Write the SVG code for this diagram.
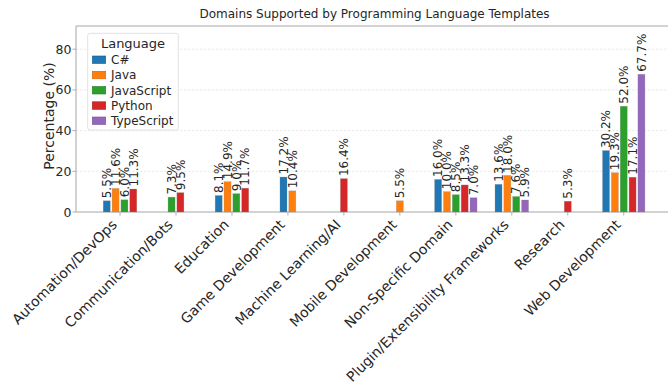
<svg xmlns="http://www.w3.org/2000/svg" width="668" height="385" viewBox="0 0 668 385">
<style>
text{font-family:"DejaVu Sans","Liberation Sans",sans-serif;fill:#262626}
.title{font-size:12px}
.ytick{font-size:12.5px;text-anchor:end}
.xtick{font-size:14px;text-anchor:end}
.ylab{font-size:14px;text-anchor:middle}
.val{font-size:12px}
.leg{font-size:12px}
.legt{font-size:13px;text-anchor:middle}
.grid{stroke:#e6e6e6;stroke-width:0.8;stroke-dasharray:2.5 1.5}
.spine{stroke:#a6a6a6;stroke-width:1;fill:none}
.tick{stroke:#a6a6a6;stroke-width:0.9}
.bar{stroke:#8c8c8c;stroke-opacity:0.55;stroke-width:0.5}
.cs{fill:#1f77b4}.ja{fill:#ff7f0e}.js{fill:#2ca02c}.py{fill:#d62728}.ts{fill:#9467bd}
</style>
<rect width="668" height="385" fill="#ffffff"/>
<text class="title" x="374.5" y="18" text-anchor="middle">Domains Supported by Programming Language Templates</text>
<g id="grid">
<line class="grid" x1="76" y1="49.2" x2="668" y2="49.2"/>
<line class="grid" x1="76" y1="89.9" x2="668" y2="89.9"/>
<line class="grid" x1="76" y1="130.6" x2="668" y2="130.6"/>
<line class="grid" x1="76" y1="171.3" x2="668" y2="171.3"/>
</g>
<g id="axes">
<path class="spine" d="M668 26H76V212H668"/>
<line class="tick" x1="72.5" y1="212" x2="76" y2="212"/>
<line class="tick" x1="72.5" y1="171.3" x2="76" y2="171.3"/>
<line class="tick" x1="72.5" y1="130.6" x2="76" y2="130.6"/>
<line class="tick" x1="72.5" y1="89.9" x2="76" y2="89.9"/>
<line class="tick" x1="72.5" y1="49.2" x2="76" y2="49.2"/>
<text class="ytick" x="71.5" y="216.5">0</text>
<text class="ytick" x="71.5" y="175.8">20</text>
<text class="ytick" x="71.5" y="135.1">40</text>
<text class="ytick" x="71.5" y="94.4">60</text>
<text class="ytick" x="71.5" y="53.7">80</text>
<text class="ylab" transform="translate(54 116) rotate(-90)">Percentage (%)</text>
<g id="xticks">
<line class="tick" x1="120" y1="212" x2="120" y2="215.5"/>
<line class="tick" x1="175.97" y1="212" x2="175.97" y2="215.5"/>
<line class="tick" x1="231.94" y1="212" x2="231.94" y2="215.5"/>
<line class="tick" x1="287.91" y1="212" x2="287.91" y2="215.5"/>
<line class="tick" x1="343.88" y1="212" x2="343.88" y2="215.5"/>
<line class="tick" x1="399.85" y1="212" x2="399.85" y2="215.5"/>
<line class="tick" x1="455.82" y1="212" x2="455.82" y2="215.5"/>
<line class="tick" x1="511.79" y1="212" x2="511.79" y2="215.5"/>
<line class="tick" x1="567.76" y1="212" x2="567.76" y2="215.5"/>
<line class="tick" x1="623.73" y1="212" x2="623.73" y2="215.5"/>
<text class="xtick" transform="translate(117.8 225.5) rotate(-45)">Automation/DevOps</text>
<text class="xtick" transform="translate(173.77 225.5) rotate(-45)">Communication/Bots</text>
<text class="xtick" transform="translate(229.74 225.5) rotate(-45)">Education</text>
<text class="xtick" transform="translate(285.71 225.5) rotate(-45)">Game Development</text>
<text class="xtick" transform="translate(341.68 225.5) rotate(-45)">Machine Learning/AI</text>
<text class="xtick" transform="translate(397.65 225.5) rotate(-45)">Mobile Development</text>
<text class="xtick" transform="translate(453.62 225.5) rotate(-45)">Non-Specific Domain</text>
<text class="xtick" transform="translate(509.59 225.5) rotate(-45)">Plugin/Extensibility Frameworks</text>
<text class="xtick" transform="translate(565.56 225.5) rotate(-45)">Research</text>
<text class="xtick" transform="translate(621.53 225.5) rotate(-45)">Web Development</text>
</g>
</g>
<g id="bars">
<g id="automation">
<rect class="bar cs" x="103.23" y="200.81" width="7" height="11.19"/>
<rect class="bar ja" x="112.08" y="188.41" width="7" height="23.59"/>
<rect class="bar js" x="120.93" y="199.80" width="7" height="12.20"/>
<rect class="bar py" x="129.78" y="189.02" width="7" height="22.98"/>
<text class="val" transform="translate(110.9 198.3) rotate(-90)">5.5%</text>
<text class="val" transform="translate(119.8 185.9) rotate(-90)">11.6%</text>
<text class="val" transform="translate(128.6 197.3) rotate(-90)">6.0%</text>
<text class="val" transform="translate(137.5 186.5) rotate(-90)">11.3%</text>
</g>
<g id="communication">
<rect class="bar js" x="168.05" y="197.15" width="7" height="14.85"/>
<rect class="bar py" x="176.90" y="192.68" width="7" height="19.32"/>
<text class="val" transform="translate(175.7 194.6) rotate(-90)">7.3%</text>
<text class="val" transform="translate(184.6 190.2) rotate(-90)">9.5%</text>
</g>
<g id="education">
<rect class="bar cs" x="215.17" y="195.52" width="7" height="16.48"/>
<rect class="bar ja" x="224.02" y="181.69" width="7" height="30.31"/>
<rect class="bar js" x="232.87" y="193.69" width="7" height="18.31"/>
<rect class="bar py" x="241.72" y="188.20" width="7" height="23.80"/>
<text class="val" transform="translate(222.9 193.0) rotate(-90)">8.1%</text>
<text class="val" transform="translate(231.7 179.2) rotate(-90)">14.9%</text>
<text class="val" transform="translate(240.6 191.2) rotate(-90)">9.0%</text>
<text class="val" transform="translate(249.4 185.7) rotate(-90)">11.7%</text>
</g>
<g id="game">
<rect class="bar cs" x="279.99" y="177.02" width="7" height="34.98"/>
<rect class="bar ja" x="288.84" y="190.85" width="7" height="21.15"/>
<text class="val" transform="translate(287.7 174.5) rotate(-90)">17.2%</text>
<text class="val" transform="translate(296.5 188.3) rotate(-90)">10.4%</text>
</g>
<g id="ml">
<rect class="bar py" x="340.38" y="178.64" width="7" height="33.36"/>
<text class="val" transform="translate(348.1 176.1) rotate(-90)">16.4%</text>
</g>
<g id="mobile">
<rect class="bar ja" x="396.35" y="200.81" width="7" height="11.19"/>
<text class="val" transform="translate(404.1 198.3) rotate(-90)">5.5%</text>
</g>
<g id="nonspecific">
<rect class="bar cs" x="434.62" y="179.46" width="7" height="32.54"/>
<rect class="bar ja" x="443.47" y="191.66" width="7" height="20.34"/>
<rect class="bar js" x="452.32" y="194.71" width="7" height="17.29"/>
<rect class="bar py" x="461.17" y="184.95" width="7" height="27.05"/>
<rect class="bar ts" x="470.02" y="197.76" width="7" height="14.24"/>
<text class="val" transform="translate(442.3 177.0) rotate(-90)">16.0%</text>
<text class="val" transform="translate(451.2 189.2) rotate(-90)">10.0%</text>
<text class="val" transform="translate(460.0 192.2) rotate(-90)">8.5%</text>
<text class="val" transform="translate(468.9 182.5) rotate(-90)">13.3%</text>
<text class="val" transform="translate(477.7 195.3) rotate(-90)">7.0%</text>
</g>
<g id="plugin">
<rect class="bar cs" x="495.02" y="184.34" width="7" height="27.66"/>
<rect class="bar ja" x="503.87" y="175.39" width="7" height="36.61"/>
<rect class="bar js" x="512.72" y="196.54" width="7" height="15.46"/>
<rect class="bar ts" x="521.57" y="200.00" width="7" height="12.00"/>
<text class="val" transform="translate(502.7 181.8) rotate(-90)">13.6%</text>
<text class="val" transform="translate(511.6 172.9) rotate(-90)">18.0%</text>
<text class="val" transform="translate(520.4 194.0) rotate(-90)">7.6%</text>
<text class="val" transform="translate(529.3 197.5) rotate(-90)">5.9%</text>
</g>
<g id="research">
<rect class="bar py" x="564.26" y="201.22" width="7" height="10.78"/>
<text class="val" transform="translate(572.0 198.7) rotate(-90)">5.3%</text>
</g>
<g id="web">
<rect class="bar cs" x="602.53" y="150.57" width="7" height="61.43"/>
<rect class="bar ja" x="611.38" y="172.74" width="7" height="39.26"/>
<rect class="bar js" x="620.23" y="106.23" width="7" height="105.77"/>
<rect class="bar py" x="629.08" y="177.22" width="7" height="34.78"/>
<rect class="bar ts" x="637.93" y="74.30" width="7" height="137.70"/>
<text class="val" transform="translate(610.2 148.1) rotate(-90)">30.2%</text>
<text class="val" transform="translate(619.1 170.2) rotate(-90)">19.3%</text>
<text class="val" transform="translate(627.9 103.7) rotate(-90)">52.0%</text>
<text class="val" transform="translate(636.8 174.7) rotate(-90)">17.1%</text>
<text class="val" transform="translate(645.6 71.8) rotate(-90)">67.7%</text>
</g>
</g>
<g id="legend">
<rect x="87.7" y="33.3" width="90.6" height="96.7" rx="2.5" fill="#ffffff" fill-opacity="0.85" stroke="#d9d9d9" stroke-width="0.8"/>
<text class="legt" x="133" y="48">Language</text>
<rect class="cs" x="92.3" y="56" width="13.4" height="7.5" stroke="#1a5f90" stroke-width="0.6"/>
<rect class="ja" x="92.3" y="71.3" width="13.4" height="7.5" stroke="#c9640b" stroke-width="0.6"/>
<rect class="js" x="92.3" y="86.5" width="13.4" height="7.5" stroke="#237f23" stroke-width="0.6"/>
<rect class="py" x="92.3" y="101.8" width="13.4" height="7.5" stroke="#a81f20" stroke-width="0.6"/>
<rect class="ts" x="92.3" y="117" width="13.4" height="7.5" stroke="#765297" stroke-width="0.6"/>
<text class="leg" x="111" y="64">C#</text>
<text class="leg" x="111" y="79.3">Java</text>
<text class="leg" x="111" y="94.5">JavaScript</text>
<text class="leg" x="111" y="109.8">Python</text>
<text class="leg" x="111" y="125">TypeScript</text>
</g>
</svg>
